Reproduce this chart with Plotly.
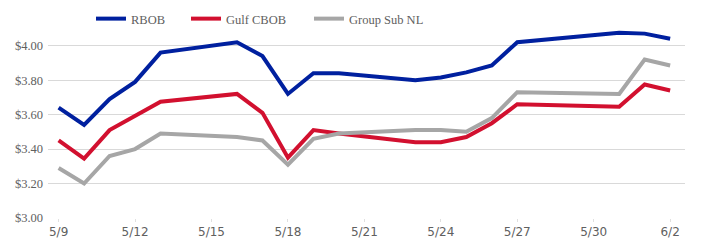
import plotly.graph_objects as go

dates = ["2022-05-09", "2022-05-10", "2022-05-11", "2022-05-12", "2022-05-13",
         "2022-05-16", "2022-05-17", "2022-05-18", "2022-05-19", "2022-05-20",
         "2022-05-23", "2022-05-24", "2022-05-25", "2022-05-26", "2022-05-27",
         "2022-05-31", "2022-06-01", "2022-06-02"]
rbob = [3.64, 3.54, 3.69, 3.79, 3.96, 4.02, 3.94, 3.72, 3.84, 3.84,
        3.80, 3.815, 3.845, 3.885, 4.02, 4.075, 4.07, 4.04]
gulf_cbob = [3.45, 3.345, 3.51, 3.59, 3.675, 3.72, 3.61, 3.35, 3.51, 3.49,
             3.44, 3.44, 3.47, 3.55, 3.66, 3.645, 3.775, 3.74]
group_sub_nl = [3.29, 3.20, 3.36, 3.40, 3.49, 3.47, 3.45, 3.31, 3.46, 3.49,
                3.51, 3.51, 3.50, 3.58, 3.73, 3.72, 3.92, 3.885]

tick_vals = ["2022-05-09", "2022-05-12", "2022-05-15", "2022-05-18", "2022-05-21",
             "2022-05-24", "2022-05-27", "2022-05-30", "2022-06-02"]
tick_text = ["5/9", "5/12", "5/15", "5/18", "5/21", "5/24", "5/27", "5/30", "6/2"]
y_ticks = [3.00, 3.20, 3.40, 3.60, 3.80, 4.00]
y_text = ["$3.00", "$3.20", "$3.40", "$3.60", "$3.80", "$4.00"]

series = [("RBOB", rbob, "#00209F", "legend", 0.0675),
          ("Gulf CBOB", gulf_cbob, "#D2102F", "legend2", 0.2166),
          ("Group Sub NL", group_sub_nl, "#A6A6A6", "legend3", 0.4097)]

fig = go.Figure()
legend_font = dict(family="Liberation Serif", size=12.5, color="#606060")
for name, vals, col, lg, lx in series:
    fig.add_trace(go.Scatter(x=dates, y=vals, name=name, mode="lines",
                             line=dict(color=col, width=4), legend=lg))
    fig.update_layout({lg: dict(orientation="h", x=lx, xanchor="left",
                                y=1 - 4 / 244, yanchor="top", yref="container",
                                font=legend_font, itemwidth=30,
                                bgcolor="rgba(0,0,0,0)")})

fig.update_layout(
    width=707, height=244,
    margin=dict(l=48, r=22, t=25, b=26, autoexpand=False),
    paper_bgcolor="white", plot_bgcolor="white",
    font=dict(family="Liberation Serif", size=11, color="#606060"),
    showlegend=True,
    xaxis=dict(type="date", range=["2022-05-08 14:00", "2022-06-02 14:00"],
               tickvals=tick_vals, ticktext=tick_text, showgrid=False,
               showline=False, zeroline=False, ticks="outside", ticklen=3,
               tickcolor="#E0E0E0", automargin=False,
               tickfont=dict(family="DejaVu Sans", size=12, color="#606060")),
    yaxis=dict(range=[3.0, 4.12], tickvals=y_ticks, ticktext=y_text,
               showgrid=True, gridcolor="#D9D9D9", gridwidth=1,
               zeroline=False, showline=False, ticks="", automargin=False,
               ticklabelstandoff=4,
               tickfont=dict(family="Liberation Serif", size=12.5, color="#606060")),
)
fig.write_html("out.html", config={"displayModeBar": False},
               post_script="document.body.style.margin='0';")
